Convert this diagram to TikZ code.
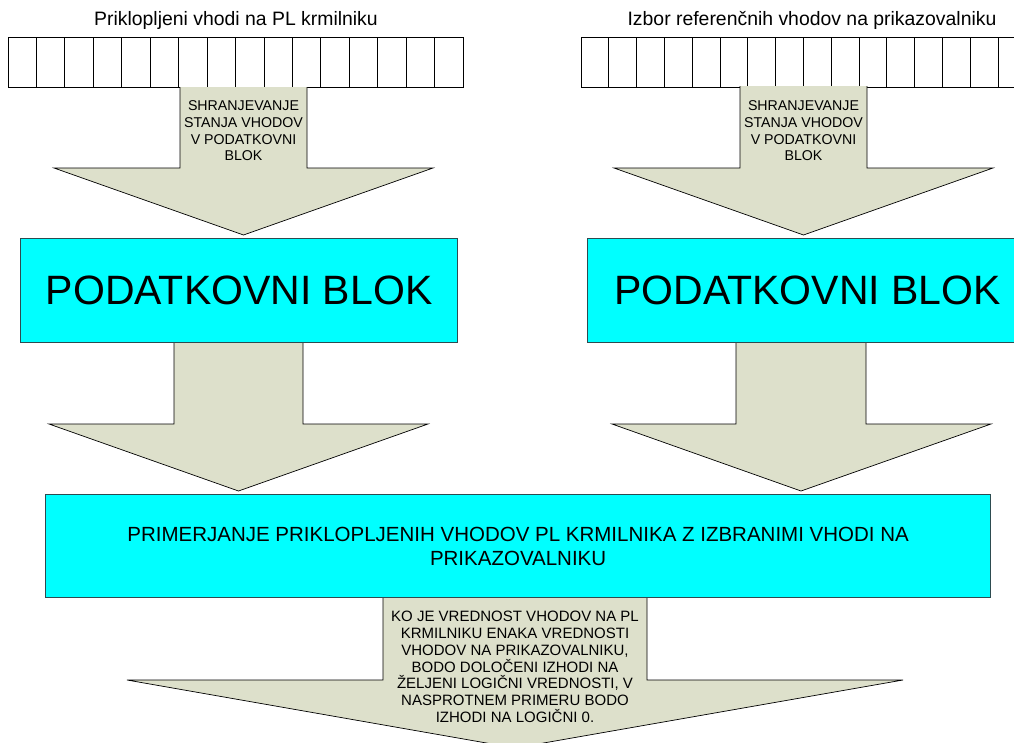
\documentclass[tikz,border=0pt]{standalone}
\usepackage{fontspec}
\setmainfont{Liberation Sans}
\usetikzlibrary{calc}

\definecolor{boxcyan}{RGB}{0,255,255}
\definecolor{boxedge}{RGB}{45,75,80}
\definecolor{arrowfill}{RGB}{221,224,203}

% block arrow: shaft x-range, top of shaft, y of head base, head x-range, tip y
\newcommand\blockarrow[7]{%
  \fill[arrowfill] (#1,#3) -- (#1,#4) -- (#5,#4) -- ({(#1+#2)/2},#7)
        -- (#6,#4) -- (#2,#4) -- (#2,#3) -- cycle;
  \draw[arrowline] (#1,#3) -- (#1,#4) -- (#5,#4) -- ({(#1+#2)/2},#7)
        -- (#6,#4) -- (#2,#4) -- (#2,#3);
}

\begin{document}
\begin{tikzpicture}[x=1pt,y=-1pt,
  cell/.style={draw=black, fill=white, line width=0.8pt, inner sep=0pt,
    outer sep=0pt, anchor=north west, minimum height=50pt},
  databox/.style={draw=boxedge, fill=boxcyan, line width=1.2pt, inner sep=0pt,
    anchor=north west, align=center},
  arrowline/.style={draw=black, line width=0.7pt, line join=miter},
  title/.style={font=\fontsize{19.4}{22}\selectfont, inner sep=0pt},
  arrowtext/.style={align=center, inner sep=0pt}]
\useasboundingbox (0,0) rectangle (1014,742);
\begin{scope}
\clip (0,0) rectangle (1014,742);

% titles
\node[title] (titleL) at (236,20) {Priklopljeni vhodi na PL krmilniku};
\node[title] (titleR) at (812,20) {Izbor referenčnih vhodov na prikazovalniku};

% rows of input cells
\foreach \i in {0,...,15}{
  \node[cell, minimum width=28.44pt] (inL\i) at ({8+28.44*\i},37) {};
  \node[cell, minimum width=27.8pt] (inR\i) at ({581+27.8*\i},37) {};
}

% block arrows
\blockarrow{180}{307}{87}{168}{54}{433}{235}
\blockarrow{740}{867}{86}{168}{614}{993}{235}
\blockarrow{174}{303}{342}{424}{49}{428}{491}
\blockarrow{736}{866}{342}{424}{612}{991}{491}
\blockarrow{383}{647}{597}{680}{127}{903}{748}

% arrow captions
\node[arrowtext, font=\fontsize{14.2}{16.6}\selectfont] (capL) at (243.5,131)
  {SHRANJEVANJE\\STANJA VHODOV\\V PODATKOVNI\\BLOK};
\node[arrowtext, font=\fontsize{14.2}{16.6}\selectfont] (capR) at (803.5,131)
  {SHRANJEVANJE\\STANJA VHODOV\\V PODATKOVNI\\BLOK};

% data blocks
\node[databox, minimum width=437pt, minimum height=104pt,
  font=\fontsize{41}{48}\selectfont] (blokL) at (20,238) {PODATKOVNI BLOK};
\node[databox, minimum width=440pt, minimum height=104pt,
  font=\fontsize{41}{48}\selectfont] (blokR) at (587,238) {PODATKOVNI BLOK};

% comparison block
\node[databox, minimum width=945pt, minimum height=103pt,
  font=\fontsize{20.5}{24}\selectfont] (compare) at (45,494)
  {PRIMERJANJE PRIKLOPLJENIH VHODOV PL KRMILNIKA Z IZBRANIMI VHODI NA\\PRIKAZOVALNIKU};

\node[arrowtext, font=\fontsize{15}{16.8}\selectfont, anchor=north]
  (result) at (515,611)
  {KO JE VREDNOST VHODOV NA PL\\KRMILNIKU ENAKA VREDNOSTI\\VHODOV NA PRIKAZOVALNIKU,\\
   BODO DOLOČENI IZHODI NA\\ŽELJENI LOGIČNI VREDNOSTI, V\\NASPROTNEM PRIMERU BODO\\
   IZHODI NA LOGIČNI 0.};
\end{scope}
\end{tikzpicture}
\end{document}
